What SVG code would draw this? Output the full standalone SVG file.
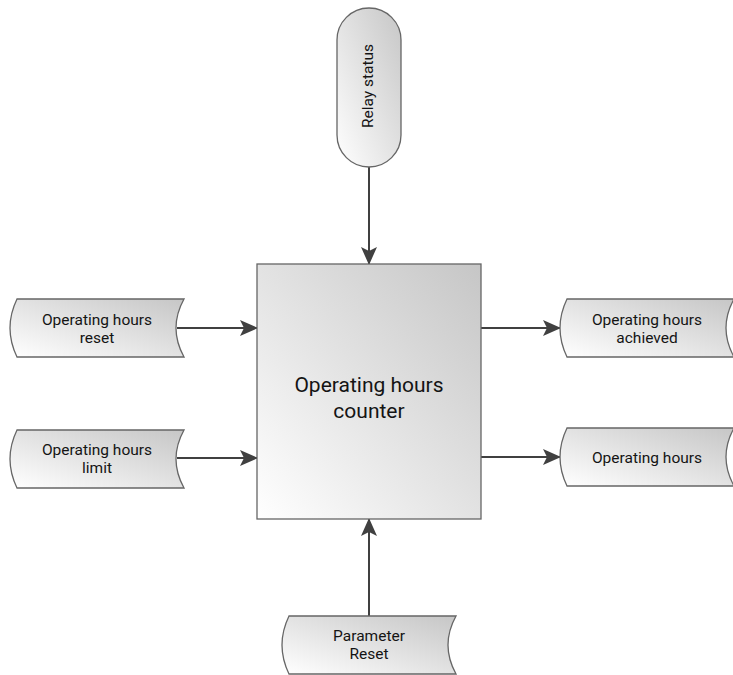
<svg xmlns="http://www.w3.org/2000/svg" width="733" height="675" viewBox="0 0 733 675">
  <defs>
    <linearGradient id="shade" x1="0" y1="1" x2="1" y2="0">
      <stop offset="0" stop-color="#ffffff"/>
      <stop offset="1" stop-color="#c6c6c6"/>
    </linearGradient>
    <marker id="arrow" viewBox="0 0 18 16" refX="17" refY="8" markerWidth="18" markerHeight="16" markerUnits="userSpaceOnUse" orient="auto">
      <path d="M0,0 L18,8 L0,16 L4,8 Z" fill="#404040"/>
    </marker>
  </defs>
  <style>
    .shape { fill: url(#shade); stroke: #666666; stroke-width: 1.3; }
    .label { font-family: Roboto, "Noto Sans", sans-serif; font-size: 15.5px; fill: #141414; text-anchor: middle; }
    .big { font-size: 21px; }
    .link { stroke: #404040; stroke-width: 2; fill: none; marker-end: url(#arrow); }
  </style>

  <g id="connectors">
    <line class="link" x1="369" y1="167" x2="369" y2="264"/>
    <line class="link" x1="177" y1="328" x2="257" y2="328"/>
    <line class="link" x1="177" y1="458" x2="257" y2="458"/>
    <line class="link" x1="481" y1="328" x2="560" y2="328"/>
    <line class="link" x1="481" y1="457" x2="560" y2="457"/>
    <line class="link" x1="369" y1="616" x2="369" y2="519"/>
  </g>

  <g id="counter">
    <rect class="shape" x="257" y="264" width="224" height="255"/>
    <text class="label big" x="369" y="391.5">Operating hours</text>
    <text class="label big" x="369" y="418">counter</text>
  </g>

  <g id="relay-status">
    <rect class="shape" x="337" y="8" width="64" height="159" rx="32" ry="32"/>
    <text class="label" transform="translate(373,86) rotate(-90)">Relay status</text>
  </g>

  <g id="hours-reset">
    <path class="shape" d="M17,299 H184 Q168,328 184,357 H17 Q3,328 17,299 Z"/>
    <text class="label" x="97" y="325">Operating hours</text>
    <text class="label" x="97" y="342.5">reset</text>
  </g>

  <g id="hours-limit">
    <path class="shape" d="M17,430 H184 Q168,459 184,488 H17 Q3,459 17,430 Z"/>
    <text class="label" x="97" y="455">Operating hours</text>
    <text class="label" x="97" y="472.5">limit</text>
  </g>

  <g id="hours-achieved">
    <path class="shape" d="M567,299 H734 Q718,328 734,357 H567 Q553,328 567,299 Z"/>
    <text class="label" x="647" y="325">Operating hours</text>
    <text class="label" x="647" y="342.5">achieved</text>
  </g>

  <g id="hours">
    <path class="shape" d="M567,428 H734 Q718,457 734,486 H567 Q553,457 567,428 Z"/>
    <text class="label" x="647" y="462.5">Operating hours</text>
  </g>

  <g id="parameter-reset">
    <path class="shape" d="M289,616 H456 Q440,645 456,674 H289 Q275,645 289,616 Z"/>
    <text class="label" x="369" y="641">Parameter</text>
    <text class="label" x="369" y="659">Reset</text>
  </g>
</svg>
